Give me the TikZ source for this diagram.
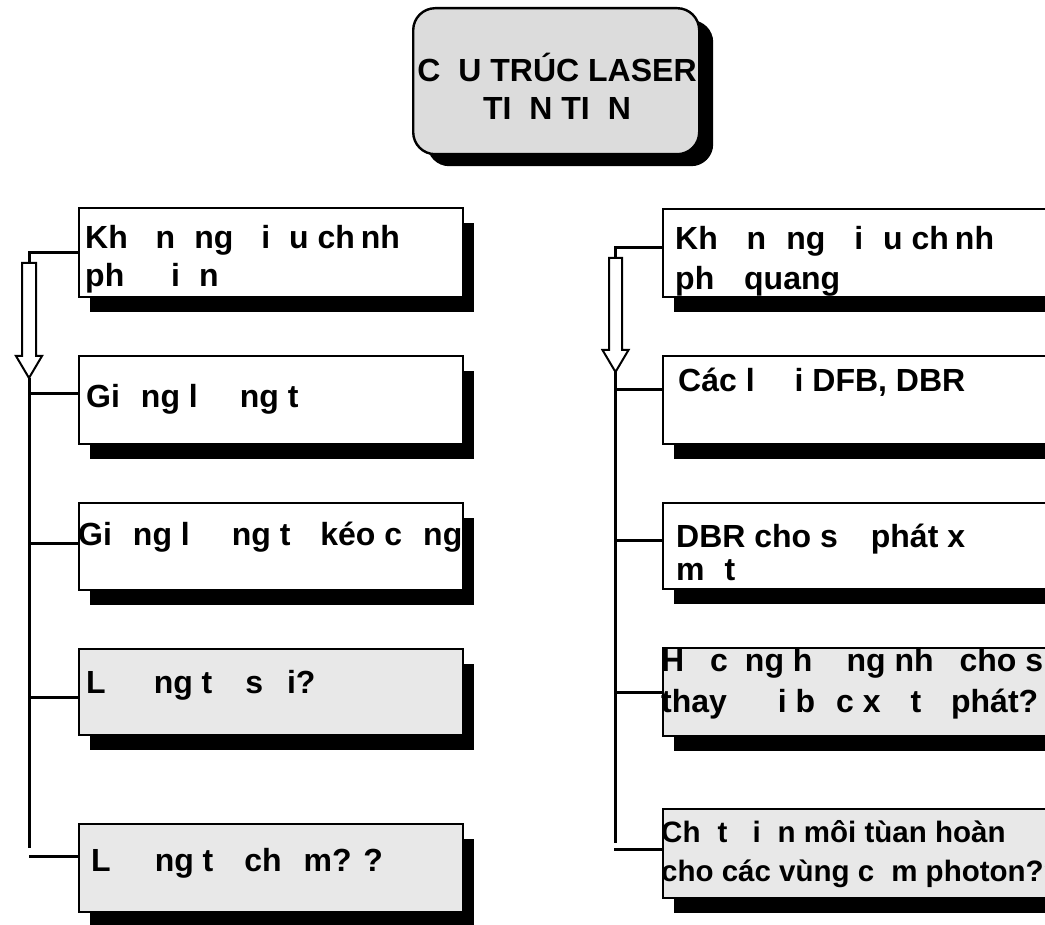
\documentclass[tikz,border=0pt]{standalone}
\usepackage{fontspec}
\setmainfont{Liberation Sans}
\usetikzlibrary{shadows}
\definecolor{titlegray}{RGB}{220,220,220}
\definecolor{boxgray}{RGB}{232,232,232}
% blank space left by a letter the font could not show
\newcommand\gapw[1]{\hspace{#1pt}}
\begin{document}
\begin{tikzpicture}[x=1pt,y=-1pt,
  box/.style={draw=black, line width=2pt, anchor=north west, inner sep=0pt,
    minimum width=#1, general shadow={fill=black, shadow xshift=11pt, shadow yshift=-15pt}},
  whitebox/.style={box=#1, fill=white},
  graybox/.style={box=#1, fill=boxgray},
  lbl/.style={anchor=base west, inner sep=0pt, font=\fontsize{32}{38}\selectfont\bfseries},
  smalllbl/.style={lbl, font=\fontsize{29.5}{35}\selectfont\bfseries},
  ttl/.style={anchor=base, inner sep=0pt, font=\fontsize{32}{38}\selectfont\bfseries},
  link/.style={line width=3pt},
  hollow/.style={draw=black, line width=2pt, fill=white, line join=miter}]
\clip (0,0) rectangle (1045,925);
\fill[white] (0,0) rectangle (1045,925);

% title
\node[draw=black, line width=2.4pt, fill=titlegray, rounded corners=22pt, anchor=north west,
  minimum width=286pt, minimum height=146pt, inner sep=0pt,
  general shadow={fill=black, shadow xshift=14pt, shadow yshift=-12pt}] (title) at (412,7) {};
\node[ttl] (title1) at (557,82) {C\gapw{18}U TRÚC LASER};
\node[ttl] (title2) at (557,120) {TI\gapw{18}N TI\gapw{18}N};

% left column
\node[whitebox=384pt, minimum height=89pt] (l1) at (78,207) {};
\node[whitebox=384pt, minimum height=88pt] (l2) at (78,355) {};
\node[whitebox=384pt, minimum height=87pt] (l3) at (78,502) {};
\node[graybox=384pt, minimum height=86pt] (l4) at (78,648) {};
\node[graybox=384pt, minimum height=88pt] (l5) at (78,823) {};

\node[lbl] (l1a) at (85,249) {Kh\gapw{19} n\gapw{19}ng \gapw{19}i\gapw{19}u ch\gapw{6}nh};
\node[lbl] (l1b) at (85,287) {ph\gapw{19} \gapw{19}i\gapw{19}n};
\node[lbl] (l2t) at (86,408) {Gi\gapw{21}ng l\gapw{42}ng t};
\node[lbl] (l3t) at (78,545) {Gi\gapw{21}ng l\gapw{42}ng t\gapw{21} kéo c\gapw{21}ng};
\node[lbl] (l4t) at (86,693) {L\gapw{48}ng t\gapw{24} s\gapw{24}i?};
\node[lbl] (l5t) at (91,871) {L\gapw{44}ng t\gapw{22} ch\gapw{22}m? ?};

% right column
\node[whitebox=420pt, minimum height=88pt] (r1) at (662,208) {};
\node[whitebox=420pt, minimum height=88pt] (r2) at (662,355) {};
\node[whitebox=420pt, minimum height=86pt] (r3) at (662,502) {};
\node[graybox=420pt, minimum height=88pt] (r4) at (662,647) {};
\node[graybox=420pt, minimum height=89pt] (r5) at (662,808) {};

\node[lbl] (r1a) at (675,250) {Kh\gapw{20} n\gapw{20}ng \gapw{20}i\gapw{20}u ch\gapw{6}nh};
\node[lbl] (r1b) at (675,290) {ph\gapw{21} quang};
\node[lbl] (r2t) at (678,392) {Các l\gapw{40}i DFB, DBR};
\node[lbl] (r3a) at (676,547) {DBR cho s\gapw{24} phát x};
\node[lbl] (r3b) at (676,580) {m\gapw{20}t};
\node[lbl] (r4a) at (661,671) {H\gapw{17} c\gapw{17}ng h\gapw{34}ng nh\gapw{17} cho s};
\node[lbl] (r4b) at (661,712) {thay \gapw{42}i b\gapw{21}c x\gapw{21} t\gapw{21} phát?};
\node[smalllbl] (r5a) at (661,842) {Ch\gapw{17}t \gapw{17}i\gapw{17}n môi tùan hoàn};
\node[smalllbl] (r5b) at (661,881) {cho các vùng c\gapw{17}m photon??};

% left spine with its hollow arrow
\coordinate (lhook) at (29,253);
\coordinate (ltop) at (29,263);
\coordinate (ltip) at (29,378);
\coordinate (lend) at (29,848);
\coordinate (lj2) at (29,394);
\coordinate (lj3) at (29,543);
\coordinate (lj4) at (29,697);
\coordinate (lj5) at (29,856);
\draw[link] (lhook -| l1.west) -- (lhook) -- (ltop);
\draw[hollow] (22,263) -- (36,263) -- (36,356) -- (42,356) -- (ltip) -- (16,356) -- (22,356) -- cycle;
\draw[link] (ltip) -- (lend);
\draw[link] (lj2) -- (lj2 -| l2.west);
\draw[link] (lj3) -- (lj3 -| l3.west);
\draw[link] (lj4) -- (lj4 -| l4.west);
\draw[link] (lj5) -- (lj5 -| l5.west);

% right spine with its hollow arrow
\coordinate (rhook) at (615.5,248);
\coordinate (rtop) at (615.5,258);
\coordinate (rtip) at (615.5,372);
\coordinate (rend) at (615.5,843);
\coordinate (rj2) at (615.5,390);
\coordinate (rj3) at (615.5,540);
\coordinate (rj4) at (615.5,692);
\coordinate (rj5) at (614,849);
\draw[link] (rhook -| r1.west) -- (rhook) -- (rtop);
\draw[hollow] (609,258) -- (622,258) -- (622,350) -- (628.5,350) -- (rtip) -- (602.5,350) -- (609,350) -- cycle;
\draw[link] (rtip) -- (rend);
\draw[link] (rj2) -- (rj2 -| r2.west);
\draw[link] (rj3) -- (rj3 -| r3.west);
\draw[link] (rj4) -- (rj4 -| r4.west);
\draw[link] (rj5) -- (rj5 -| r5.west);
\end{tikzpicture}
\end{document}
